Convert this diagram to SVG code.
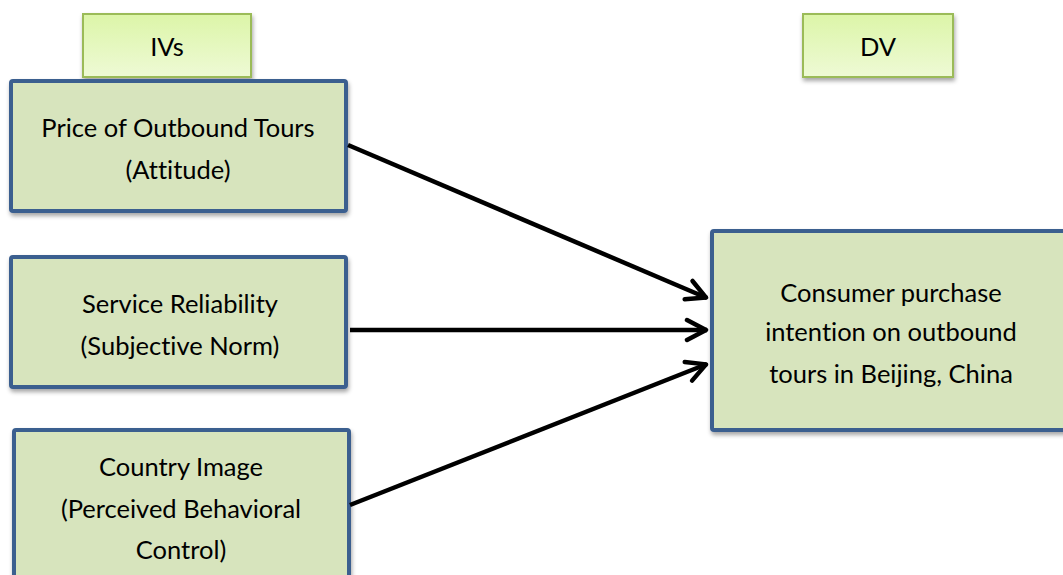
<svg xmlns="http://www.w3.org/2000/svg" width="1063" height="575" viewBox="0 0 1063 575">
<style>
.hdr{fill:url(#g);stroke:#9bbb59;stroke-width:2}
.box{fill:#d7e4bd;stroke:#3b5f8f;stroke-width:4}
text{font-family:Lato,"Liberation Sans",sans-serif;font-size:25.5px;fill:#000;text-anchor:middle;dominant-baseline:central;font-variant-ligatures:none}
.con{stroke:#000;stroke-width:4.5;fill:none;marker-end:url(#ah)}
</style>
<defs>
<linearGradient id="g" x1="0" y1="0" x2="0" y2="1">
<stop offset="0" stop-color="#dcf5a8"/>
<stop offset="1" stop-color="#eefad5"/>
</linearGradient>
<filter id="sh" x="-10%" y="-10%" width="130%" height="140%">
<feDropShadow dx="1" dy="3" stdDeviation="2" flood-color="#000" flood-opacity="0.35"/>
</filter>
<marker id="ah" viewBox="0 0 26 26" refX="24" refY="13" markerWidth="26" markerHeight="26" markerUnits="userSpaceOnUse" orient="auto">
<path d="M4 3 L23 13 L4 23" fill="none" stroke="#000" stroke-width="4.5" stroke-linecap="round" stroke-linejoin="round"/>
</marker>
</defs>
<g id="ivs"><rect class="hdr" x="83" y="14" width="168" height="63" filter="url(#sh)"/><text x="167" y="46">IVs</text></g>
<g id="dv"><rect class="hdr" x="803" y="14" width="150" height="63" filter="url(#sh)"/><text x="878" y="46">DV</text></g>
<g id="price"><rect class="box" x="11" y="81" width="335" height="130" rx="2" filter="url(#sh)"/><text x="178" y="127">Price of Outbound Tours</text><text x="178" y="169">(Attitude)</text></g>
<g id="service"><rect class="box" x="11" y="257" width="335" height="130" rx="2" filter="url(#sh)"/><text x="180" y="303">Service Reliability</text><text x="180" y="345">(Subjective Norm)</text></g>
<g id="country"><rect class="box" x="14" y="430" width="335" height="160" rx="2" filter="url(#sh)"/><text x="181" y="466">Country Image</text><text x="181" y="508">(Perceived Behavioral</text><text x="181" y="549">Control)</text></g>
<g id="intention"><rect class="box" x="712" y="231" width="360" height="199" rx="2" filter="url(#sh)"/><text x="891" y="292">Consumer purchase</text><text x="891" y="331">intention on outbound</text><text x="891" y="373">tours in Beijing, China</text></g>
<g id="connectors">
<line class="con" x1="348" y1="145" x2="707" y2="298"/>
<line class="con" x1="350" y1="330" x2="707" y2="330"/>
<line class="con" x1="350" y1="505" x2="707" y2="364"/>
</g>
</svg>
